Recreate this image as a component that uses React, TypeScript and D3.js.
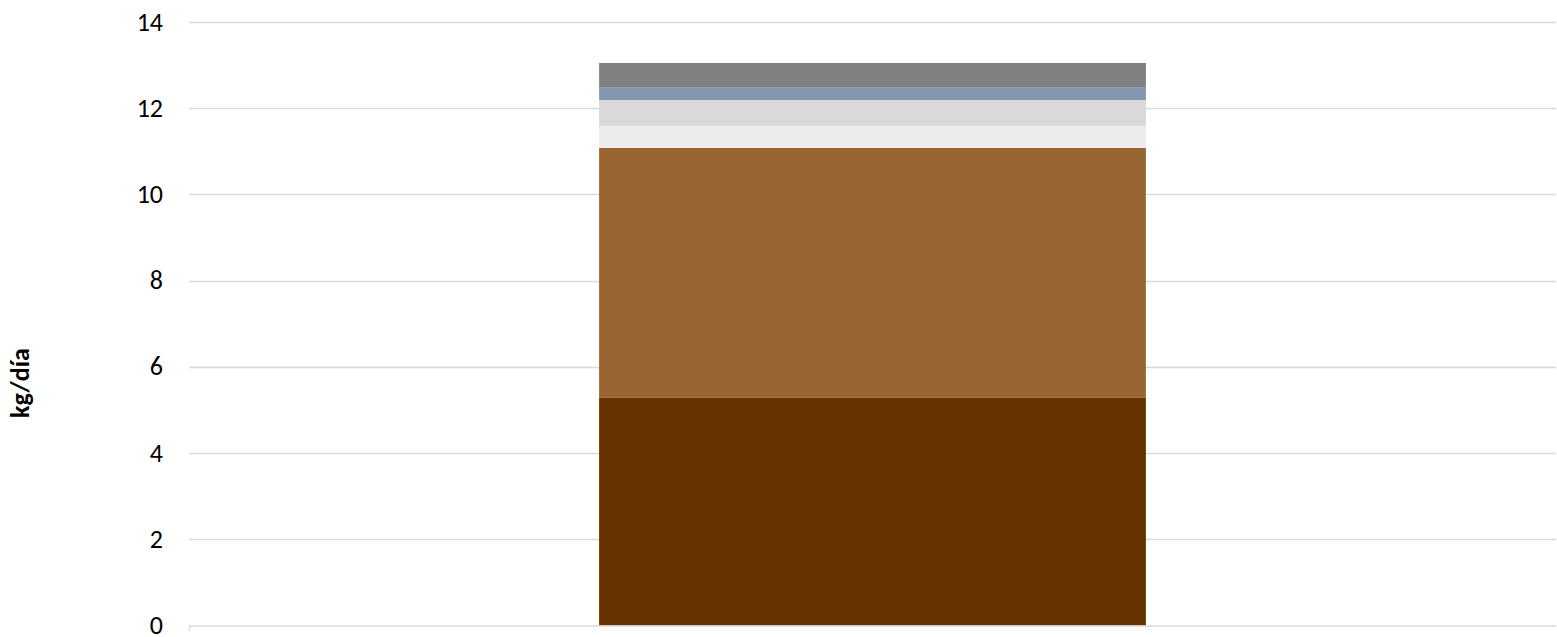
import { useEffect, useRef } from "react";
import * as d3 from "d3";

const categories = [""];
const seriesNames = ["s1", "s2", "s3", "s4", "s5", "s6"];
const seriesValues = [5.28, 5.8, 0.51, 0.6, 0.3, 0.56];
const seriesColors = ["#663300", "#996633", "#ececec", "#d9d9d9", "#8497b0", "#808080"];
const yTicks = [0, 2, 4, 6, 8, 10, 12, 14];

export default function App() {
  const svgRef = useRef<SVGSVGElement>(null);

  useEffect(() => {
    if (!svgRef.current) return;
    const width = 1557;
    const height = 637;
    const margin = { top: 22, right: 1, bottom: 11.5, left: 189 };
    const innerW = width - margin.left - margin.right;
    const innerH = height - margin.top - margin.bottom;

    const svg = d3.select(svgRef.current);
    svg.selectAll("*").remove();

    const x = d3.scaleBand<string>().domain(categories).range([0, innerW]).paddingInner(0.6).paddingOuter(0.3);
    const y = d3.scaleLinear().domain([0, 14]).range([innerH, 0]);

    const chart = svg.append("g").attr("transform", `translate(${margin.left},${margin.top})`);

    // gridlines
    chart
      .selectAll("line.grid")
      .data(yTicks.filter((t) => t > 0))
      .enter()
      .append("line")
      .attr("x1", 0)
      .attr("x2", innerW)
      .attr("y1", (d) => Math.round(y(d)) + 0.5)
      .attr("y2", (d) => Math.round(y(d)) + 0.5)
      .attr("stroke", "#d9d9d9")
      .attr("stroke-width", 1.5);

    // stacked segments
    const row: Record<string, number> = {};
    seriesNames.forEach((n, i) => (row[n] = seriesValues[i]));
    const stack = d3.stack<Record<string, number>>().keys(seriesNames)([row]);

    stack.forEach((layer, i) => {
      layer.forEach((seg) => {
        chart
          .append("rect")
          .attr("x", x(categories[0])!)
          .attr("width", x.bandwidth())
          .attr("y", y(seg[1]))
          .attr("height", y(seg[0]) - y(seg[1]))
          .attr("fill", seriesColors[i]);
      });
    });

    // x axis line
    chart
      .append("line")
      .attr("x1", 0)
      .attr("x2", innerW)
      .attr("y1", innerH + 0.5)
      .attr("y2", innerH + 0.5)
      .attr("stroke", "#d9d9d9")
      .attr("stroke-width", 1.5);
    chart
      .append("line")
      .attr("x1", 0.5)
      .attr("x2", 0.5)
      .attr("y1", innerH)
      .attr("y2", innerH + 6)
      .attr("stroke", "#d9d9d9")
      .attr("stroke-width", 1.5);

    // y tick labels
    chart
      .selectAll("text.tick")
      .data(yTicks)
      .enter()
      .append("text")
      .attr("x", -26)
      .attr("y", (d) => y(d))
      .attr("dy", "0.33em")
      .attr("text-anchor", "end")
      .attr("fill", "#000")
      .attr("font-family", "Carlito, 'Open Sans', sans-serif")
      .attr("font-size", 26)
      .text((d) => d3.format("d")(d));

    // y axis title
    svg
      .append("text")
      .attr("transform", `translate(29,383) rotate(-90)`)
      .attr("text-anchor", "middle")
      .attr("font-family", "Carlito, 'Open Sans', sans-serif")
      .attr("font-weight", 700)
      .attr("font-size", 26)
      .attr("fill", "#000")
      .text("kg/día");
  }, []);

  return (
    <div style={{ position: "absolute", left: 0, top: 0 }}>
      <svg ref={svgRef} width={1557} height={637} style={{ display: "block", background: "#fff" }} />
    </div>
  );
}
